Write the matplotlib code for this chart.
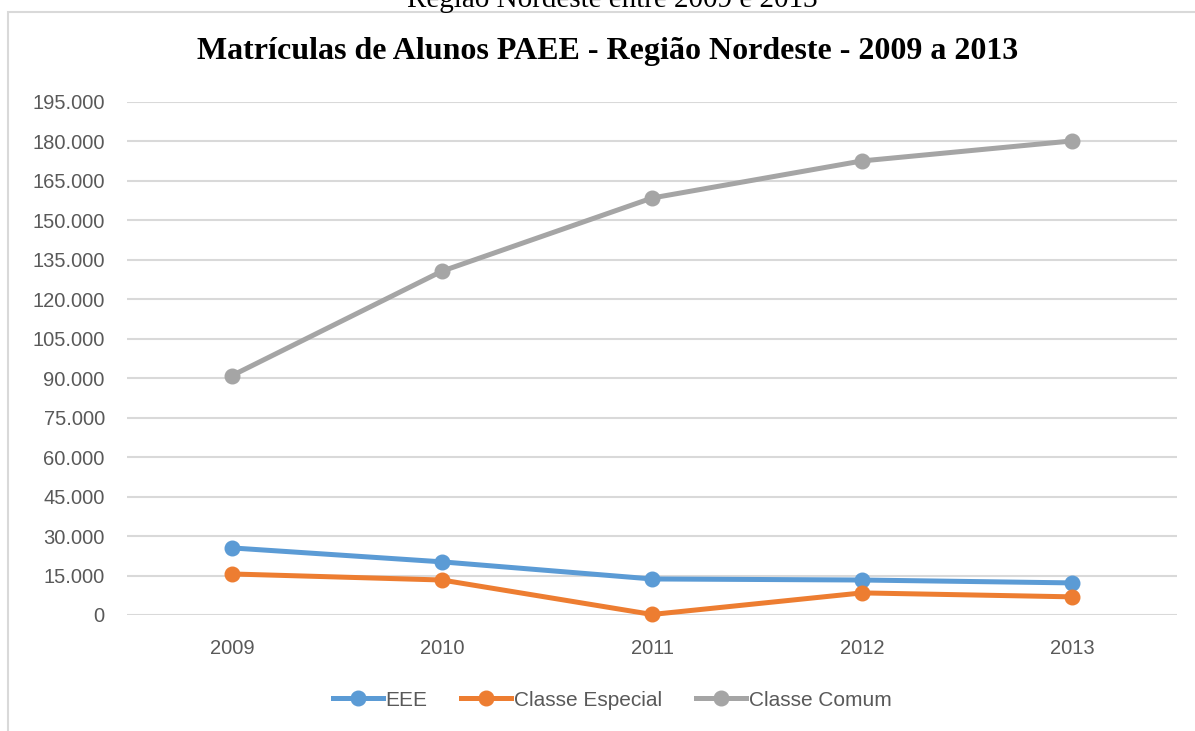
import matplotlib
matplotlib.use("Agg")
import matplotlib.pyplot as plt
from matplotlib.patches import Rectangle
from matplotlib.ticker import FuncFormatter

# dados
anos = ["2009", "2010", "2011", "2012", "2013"]
eee = [25500, 20200, 13700, 13300, 12200]
classe_especial = [15600, 13300, 200, 8400, 6900]
classe_comum = [91000, 130700, 158500, 172600, 180200]
series_nomes = ["EEE", "Classe Especial", "Classe Comum"]
yticks = list(range(0, 195001, 15000))

cores = ["#5B9BD5", "#ED7D31", "#A5A5A5"]
fonte = ["Liberation Sans", "DejaVu Sans"]
cinza_txt = "#595959"

W, H = 1195, 731
fig = plt.figure(figsize=(W / 100, H / 100), dpi=100)

# moldura do grafico (cortada a direita/embaixo como no original)
fig.patches.append(Rectangle((8 / W, -0.05), 1.1, 1 - 12 / H + 0.05,
                             transform=fig.transFigure, fill=False,
                             edgecolor="#D9D9D9", linewidth=1.5))

# texto cortado no topo (assim esta no original)
fig.text(612 / W, 1 - 7 / H, "Região Nordeste entre 2009 e 2013",
         family="Liberation Serif", fontsize=21, ha="center", va="baseline")

fig.text(608 / W, 1 - 52 / H, "Matrículas de Alunos PAEE - Região Nordeste - 2009 a 2013",
         family="Liberation Serif", fontweight="bold", fontsize=23,
         ha="center", va="center")

ax = fig.add_axes([127 / W, 1 - 615 / H, (1177 - 127) / W, (615 - 102) / H])
x = range(len(anos))
for vals, nome, cor in zip([eee, classe_especial, classe_comum], series_nomes, cores):
    ax.plot(x, vals, color=cor, linewidth=3.6, marker="o", markersize=10.5,
            label=nome, clip_on=False, zorder=3)

ax.set_xlim(-0.5, len(anos) - 0.5)
ax.set_ylim(0, 195000)
ax.set_yticks(yticks)
ax.yaxis.set_major_formatter(FuncFormatter(lambda v, p: f"{int(v):,}".replace(",", ".")))
ax.set_xticks(list(x))
ax.set_xticklabels(anos)
ax.grid(axis="y", color="#D9D9D9", linewidth=1.5)
ax.set_axisbelow(True)
for s in ax.spines.values():
    s.set_visible(False)
ax.tick_params(length=0, labelsize=14.5, labelcolor=cinza_txt)
ax.tick_params(axis="y", pad=16)
ax.tick_params(axis="x", pad=17)
for lbl in ax.get_xticklabels() + ax.get_yticklabels():
    lbl.set_family(fonte)

leg = fig.legend(loc="center", bbox_to_anchor=(612 / W, 1 - 700 / H), ncol=3,
                 frameon=False, handlelength=2.4, handletextpad=0.15,
                 columnspacing=1.6, prop={"family": fonte, "size": 15})
for t in leg.get_texts():
    t.set_color(cinza_txt)

fig.savefig("out.png", dpi=100)
